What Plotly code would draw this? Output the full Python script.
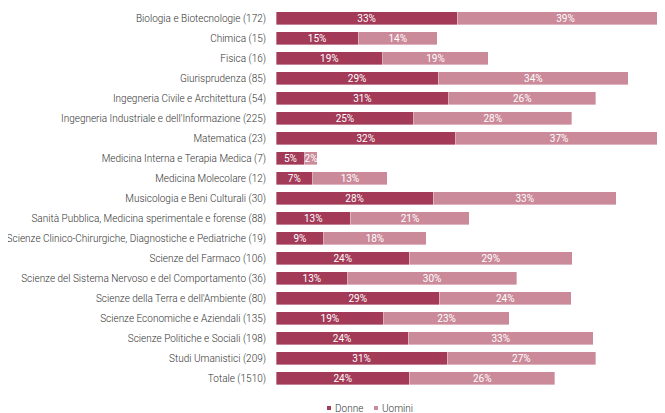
import plotly.graph_objects as go

categories = [
    "Biologia e Biotecnologie (172)",
    "Chimica (15)",
    "Fisica (16)",
    "Giurisprudenza (85)",
    "Ingegneria Civile e Architettura (54)",
    "Ingegneria Industriale e dell'Informazione (225)",
    "Matematica (23)",
    "Medicina Interna e Terapia Medica (7)",
    "Medicina Molecolare (12)",
    "Musicologia e Beni Culturali (30)",
    "Sanità Pubblica, Medicina sperimentale e forense (88)",
    "Scienze Clinico-Chirurgiche, Diagnostiche e Pediatriche (19)",
    "Scienze del Farmaco (106)",
    "Scienze del Sistema Nervoso e del Comportamento (36)",
    "Scienze della Terra e dell'Ambiente (80)",
    "Scienze Economiche e Aziendali (135)",
    "Scienze Politiche e Sociali (198)",
    "Studi Umanistici (209)",
    "Totale (1510)",
]
donne = [32.6, 14.8, 19.2, 29.2, 31.1, 24.8, 32.3, 5.2, 6.6, 28.3, 13.4, 8.6,
         24.0, 12.9, 29.4, 19.4, 23.8, 30.8, 24.0]
uomini = [39.0, 14.2, 19.0, 34.2, 26.4, 28.4, 37.3, 2.2, 13.4, 32.9, 21.4, 18.4,
          29.3, 30.4, 23.7, 22.6, 33.3, 26.7, 26.2]

dark = "#A23A58"
light = "#CB8A9A"
font_family = "Roboto, 'Open Sans', sans-serif"
label_color = "#333333"

fig = go.Figure()
for vals, name, col in [(donne, "Donne", dark), (uomini, "Uomini", light)]:
    fig.add_trace(go.Bar(
        y=categories, x=vals, orientation="h", name=name,
        marker=dict(color=col, line=dict(color="rgba(255,255,255,0.6)", width=0.6)),
        texttemplate="%{x:.0f}%", textposition="inside", insidetextanchor="middle",
        textangle=0, constraintext="none",
        textfont=dict(color="white", size=10, family=font_family, weight=400),
        showlegend=False,
    ))

# legend built from small squares + text (paper coords relative to plot area)
legend_items = [("Donne", dark, 0.1311), ("Uomini", light, 0.2519)]
shapes = []
annotations = []
for name, col, xp in legend_items:
    shapes.append(dict(type="rect", xref="paper", yref="paper",
                       x0=xp, x1=xp + 0.0103, y0=-0.0579, y1=-0.0474,
                       fillcolor=col, line=dict(width=0)))
    annotations.append(dict(text=name, xref="paper", yref="paper",
                            x=xp + 0.0155, y=-0.0545, xanchor="left", yanchor="middle",
                            showarrow=False,
                            font=dict(size=10, color=label_color, family=font_family, weight=300)))

# the page body adds an 8px offset, so the figure is 8px smaller than the window
fig.update_layout(
    width=657, height=405,
    margin=dict(l=268, r=0, t=0, b=25),
    barmode="stack", bargap=0.35,
    paper_bgcolor="white", plot_bgcolor="white",
    font=dict(family=font_family, size=10, color=label_color, weight=300),
    xaxis=dict(range=[0, 70], visible=False, fixedrange=True),
    yaxis=dict(autorange="reversed", showgrid=False, showline=False, ticks="",
               automargin=False, ticklabelstandoff=9,
               tickfont=dict(size=10, color=label_color, family=font_family, weight=300)),
    shapes=shapes, annotations=annotations,
    showlegend=False,
)

fig.write_html("out.html")
